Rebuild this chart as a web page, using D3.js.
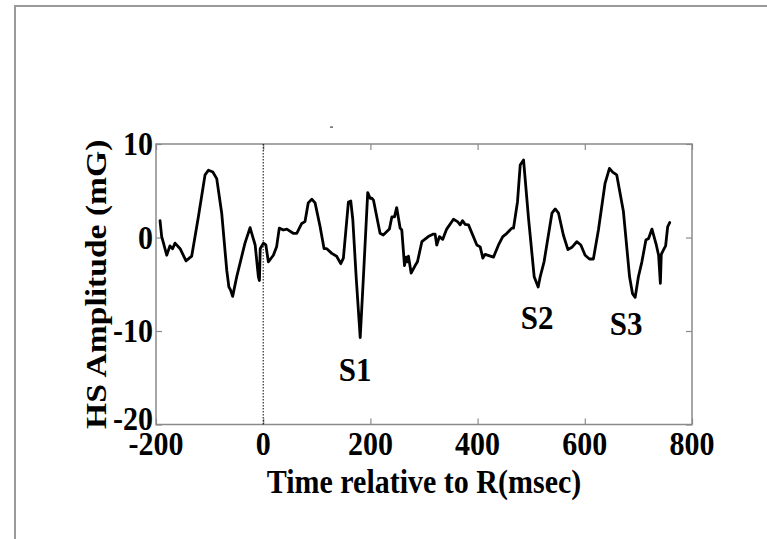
<!DOCTYPE html>
<html>
<head>
<meta charset="utf-8">
<script src="https://cdn.jsdelivr.net/npm/d3@7"></script>
<style>
html,body{margin:0;padding:0;background:#fff;}
svg{display:block;}
</style>
</head>
<body>
<svg id="chart" width="767" height="539"></svg>
<script>
// ---- data ----
const timeMs = [-192.5,-189.4,-186,-180,-174,-169,-164.5,-155,-144,-133.4,-121,-108.5,-102,-94,-86.7,-77.4,-68,-64,-61,-57,-49.4,-34,-24.5,-15,-9,-7,-5.6,0.4,5,9.6,19,25,30,37.7,44,56,62.6,71.9,78,84,90.7,96.8,106,113.6,118.6,128,137,144.7,149.6,159,163.4,167.2,173.4,181,187,195,199.5,202.6,205.7,218,224,235.5,240,244.9,249,255.5,258.6,263.6,266.7,269,271,276,283.5,287.8,296,308,317.6,320.7,323.8,328.8,335,342.3,355,362.5,367.5,371.8,376.8,383,398.6,404.8,409.8,414,429.6,439,447,454.6,463.9,467,474.4,479.5,485.7,495,505.6,513,516.8,524,538.7,544.8,551,560,568.5,575.9,585,592.6,600.6,608.7,616,625.4,637.8,646,652,659.5,672,683.5,689,694,700,706.5,714,719,725.3,733.4,737.7,741,742.7,747,750.8,754.6,758.4];
const amplitude = [1.8,0.1,-0.6,-1.9,-0.9,-1.2,-0.6,-1.2,-2.5,-2.0,2.2,6.7,7.2,7.0,6.3,2.6,-3.5,-5.3,-5.6,-6.3,-4.2,-0.6,1.05,-0.8,-4.2,-4.6,-1.2,-0.6,-0.8,-2.6,-1.9,-1.0,1.0,0.8,0.9,0.45,0.45,1.5,1.7,3.7,4.1,3.7,1.2,-1.2,-1.2,-1.7,-2.0,-2.8,-2.2,3.8,3.9,1.9,-4.2,-10.7,-4.2,4.8,4.2,4.2,4.0,0.45,0.27,0.9,2.2,2.2,3.2,1.0,0.8,-3.0,-2.1,-2.6,-2.0,-3.8,-3.0,-2.6,-0.45,0.1,0.37,0.37,-0.8,0.1,-0.2,0.9,1.95,1.7,1.35,1.8,1.4,1.35,-0.8,-1.0,-2.2,-1.8,-2.1,-0.8,0.1,0.45,1.0,1.0,3.8,7.75,8.3,2.05,-4.2,-5.3,-4.2,-2.6,2.6,3.05,2.6,0.27,-1.3,-1.05,-0.45,-0.8,-1.9,-2.3,-2.3,0.8,5.8,7.4,7.0,6.7,2.8,-4.2,-6.0,-6.4,-4.2,-2.6,-0.27,-0.1,0.9,-0.8,-1.9,-4.9,-1.8,-1.3,-0.9,1.15,1.6];
const xTicks = [-200, 0, 200, 400, 600, 800];
const yTicks = [10, 0, -10, -20];
const annotText = ["S1", "S2", "S3"];
const annotTime = [171.5, 511, 677];
const annotAmp = [-15.3, -9.8, -10.4];
const xDomain = [-200, 800];
const yDomain = [-20, 10];
const xLabel = "Time relative to R(msec)";
const yLabel = "HS Amplitude (mG)";

// ---- layout ----
const svg = d3.select("#chart");
const L = 156, R = 692, T = 144, B = 424.5;
const x = d3.scaleLinear().domain(xDomain).range([L, R]);
const y = d3.scaleLinear().domain(yDomain).range([B, T]);
const font = "'Liberation Serif','Times New Roman',serif";
const axisGray = "#8a8a8a";
const SY = 1.12; // vertical stretch of the reference's glyphs

function stretchedText(g, px, py, size, anchor, txt, rot) {
  g.append("text")
    .attr("transform", `translate(${px},${py}) scale(1,${SY})` + (rot ? ` rotate(${rot})` : ""))
    .attr("text-anchor", anchor)
    .attr("font-family", font).attr("font-weight", "bold").attr("font-size", size)
    .text(txt);
}

// outer figure frame
svg.append("rect").attr("x", 15).attr("y", 6).attr("width", 800).attr("height", 600)
  .attr("fill", "none").attr("stroke", "#9a9a9a").attr("stroke-width", 2);

// tiny title mark
svg.append("rect").attr("x", 330).attr("y", 126.5).attr("width", 3).attr("height", 1.2).attr("fill", "#444");

// plot box
svg.append("rect").attr("x", L).attr("y", T).attr("width", R - L).attr("height", B - T)
  .attr("fill", "none").attr("stroke", axisGray).attr("stroke-width", 1.5);

// axes with inward ticks
const tickLen = 6;
const gxB = svg.append("g").attr("transform", `translate(0,${B})`)
  .call(d3.axisBottom(x).tickValues(xTicks).tickSizeInner(-tickLen).tickSizeOuter(0).tickFormat(""));
const gxT = svg.append("g").attr("transform", `translate(0,${T})`)
  .call(d3.axisTop(x).tickValues(xTicks).tickSizeInner(-tickLen).tickSizeOuter(0).tickFormat(""));
const gyL = svg.append("g").attr("transform", `translate(${L},0)`)
  .call(d3.axisLeft(y).tickValues(yTicks).tickSizeInner(-tickLen).tickSizeOuter(0).tickFormat(""));
const gyR = svg.append("g").attr("transform", `translate(${R},0)`)
  .call(d3.axisRight(y).tickValues(yTicks).tickSizeInner(-tickLen).tickSizeOuter(0).tickFormat(""));
[gxB, gxT, gyL, gyR].forEach(g => {
  g.select(".domain").remove();
  g.selectAll(".tick line").attr("stroke", axisGray).attr("stroke-width", 1.2);
});

// tick labels
const gxl = svg.append("g");
xTicks.forEach(d => stretchedText(gxl, x(d), 455, 30, "middle", d));
const gyl = svg.append("g");
yTicks.forEach(d => stretchedText(gyl, 153, y(d) + (d === -20 ? 5 : 11), 30, "end", d));

// axis titles
stretchedText(svg, (L + R) / 2, 493, 30, "middle", xLabel);
stretchedText(svg, 106, (T + B) / 2, 30, "middle", yLabel, -90);

// R marker dotted line at t=0
svg.append("line").attr("x1", x(0)).attr("x2", x(0)).attr("y1", T).attr("y2", B)
  .attr("stroke", "#000").attr("stroke-width", 1).attr("stroke-dasharray", "1.5,1.5");

// signal
const pts = timeMs.map((t, i) => [t, amplitude[i]]);
const line = d3.line().x(d => x(d[0])).y(d => y(d[1]));
svg.append("path").datum(pts).attr("d", line)
  .attr("fill", "none").attr("stroke", "#000").attr("stroke-width", 2.8)
  .attr("stroke-linejoin", "round").attr("stroke-linecap", "round");

// annotations
const ga = svg.append("g");
annotText.forEach((d, i) => stretchedText(ga, x(annotTime[i]), y(annotAmp[i]), 31, "middle", d));
</script>
</body>
</html>
